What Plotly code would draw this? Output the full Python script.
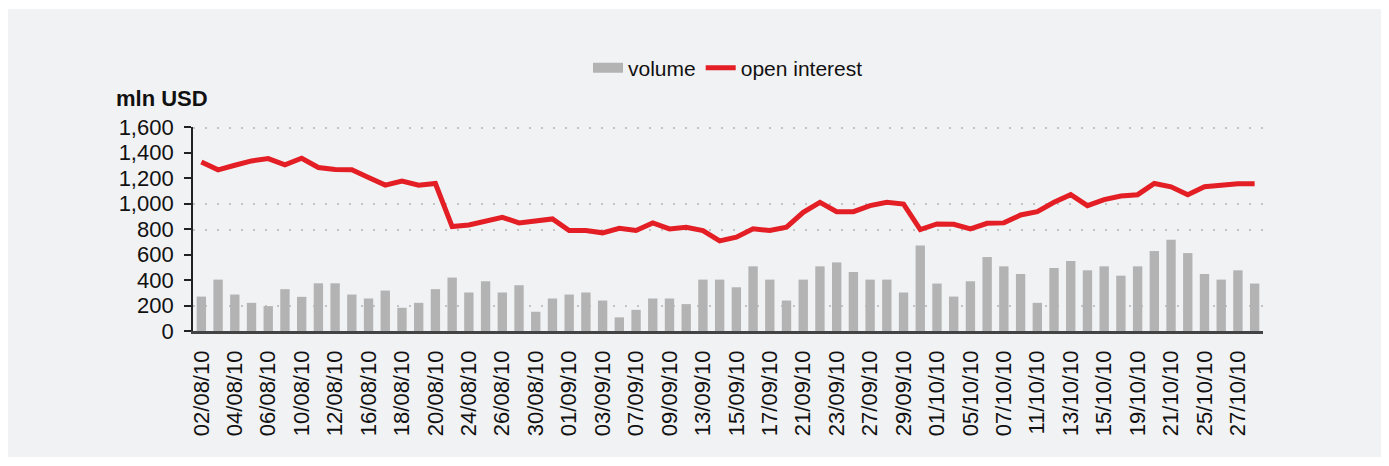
import plotly.graph_objects as go

dates = [
    "02/08/10", "03/08/10", "04/08/10", "05/08/10", "06/08/10", "09/08/10", "10/08/10", "11/08/10",
    "12/08/10", "13/08/10", "16/08/10", "17/08/10", "18/08/10", "19/08/10", "20/08/10", "23/08/10",
    "24/08/10", "25/08/10", "26/08/10", "27/08/10", "30/08/10", "31/08/10", "01/09/10", "02/09/10",
    "03/09/10", "06/09/10", "07/09/10", "08/09/10", "09/09/10", "10/09/10", "13/09/10", "14/09/10",
    "15/09/10", "16/09/10", "17/09/10", "20/09/10", "21/09/10", "22/09/10", "23/09/10", "24/09/10",
    "27/09/10", "28/09/10", "29/09/10", "30/09/10", "01/10/10", "04/10/10", "05/10/10", "06/10/10",
    "07/10/10", "08/10/10", "11/10/10", "12/10/10", "13/10/10", "14/10/10", "15/10/10", "18/10/10",
    "19/10/10", "20/10/10", "21/10/10", "22/10/10", "25/10/10", "26/10/10", "27/10/10", "28/10/10",
]

volume = [
    270, 403, 286, 221, 195, 328, 268, 374,
    374, 286, 255, 317, 182, 221, 328, 419,
    302, 390, 302, 359, 151, 255, 286, 302,
    239, 107, 166, 255, 255, 211, 403, 403,
    343, 507, 403, 239, 403, 507, 538, 463,
    403, 403, 302, 671, 372, 270, 390, 580,
    507, 447, 221, 494, 549, 476, 507, 434,
    507, 627, 715, 611, 447, 403, 476, 372,
]

open_interest = [
    1326, 1264, 1300, 1334, 1352, 1303, 1355, 1282,
    1266, 1264, 1204, 1144, 1175, 1144, 1157, 819,
    832, 861, 892, 848, 861, 879, 788, 788,
    770, 806, 788, 848, 801, 814, 788, 707,
    736, 801, 788, 814, 931, 1009, 936, 936,
    983, 1009, 996, 796, 840, 837, 801, 845,
    848, 910, 936, 1009, 1069, 983, 1030, 1058,
    1069, 1157, 1131, 1069, 1131, 1141, 1154, 1154,
]

y_ticks = [0, 200, 400, 600, 800, 1000, 1200, 1400, 1600]
y_labels = ["0", "200", "400", "600", "800", "1,000", "1,200", "1,400", "1,600"]
grid_values = [200, 800, 1000, 1600]

BAR_COLOR = "#b3b3b3"
LINE_COLOR = "#e31e24"

fig = go.Figure()
fig.add_trace(go.Bar(x=dates, y=volume, name="volume", marker_color=BAR_COLOR,
                     marker_line_width=0, showlegend=False, legendgroup="vol"))
# legend-only entry (wide gray swatch); also activates the grid-only axis y2
fig.add_trace(go.Scatter(x=[None], y=[None], name="volume", mode="lines",
                         line=dict(color=BAR_COLOR, width=13), legendgroup="vol",
                         yaxis="y2"))
fig.add_trace(go.Scatter(x=dates, y=open_interest, name="open interest", mode="lines",
                         line=dict(color=LINE_COLOR, width=5)))

# page has an 8px body margin, so the figure is positioned at (8, 8)
OFF = 8
W, H = 1389 - OFF, 466 - OFF
L, T = 193 - OFF, 127 - OFF
pw, ph = 1070, 204
R = W - L - pw
B = H - T - ph


def px_x(x):
    return (x - OFF - L) / pw


def px_y(y):
    return (T + ph - (y - OFF)) / ph


fig.add_shape(type="rect", xref="paper", yref="paper",
              x0=px_x(8), x1=px_x(1383), y0=px_y(457), y1=px_y(9),
              fillcolor="#f1f2f4", line_width=0, layer="below")

fig.add_annotation(text="<b>mln USD</b>", xref="paper", yref="paper",
                   x=px_x(114), y=px_y(98), xanchor="left", yanchor="middle",
                   showarrow=False,
                   font=dict(size=22, color="#111111", family="Liberation Sans, Arial"))

fig.update_layout(
    width=W, height=H,
    margin=dict(l=L, r=R, t=T, b=B),
    paper_bgcolor="white",
    plot_bgcolor="rgba(0,0,0,0)",
    bargap=0.44,
    font=dict(family="Liberation Sans, Arial", color="#111111"),
    showlegend=True,
    legend=dict(orientation="h", x=0.5, xanchor="center", y=px_y(68), yanchor="middle",
                font=dict(size=21, color="#111111"), bgcolor="rgba(0,0,0,0)",
                tracegroupgap=0, itemsizing="trace"),
    xaxis=dict(
        type="category",
        tickmode="array", tickvals=dates[::2], ticktext=dates[::2],
        tickangle=-90, tickfont=dict(size=22, color="#111111"),
        showline=True, linecolor="#444444", linewidth=2.5,
        showgrid=False, ticks="",
        ticklabelstandoff=8,
        range=[-0.5, len(dates) - 0.5],
    ),
    yaxis=dict(
        range=[0, 1600], tickmode="array", tickvals=y_ticks, ticktext=y_labels,
        tickfont=dict(size=22, color="#111111"),
        showline=True, linecolor="#222222", linewidth=1.8,
        ticks="outside", ticklen=7, tickcolor="#222222", tickwidth=1.5,
        ticklabelstandoff=6,
        showgrid=False, zeroline=False,
    ),
    # grid-only axis: dotted lines at selected levels
    yaxis2=dict(overlaying="y", range=[0, 1611], tickmode="array", tickvals=grid_values,
                showticklabels=False, ticks="", showline=False, zeroline=False,
                showgrid=True, gridcolor="#c4c4c4", griddash="2px,10px", gridwidth=1.5,
                layer="below traces"),
)

fig.write_html("out.html")
